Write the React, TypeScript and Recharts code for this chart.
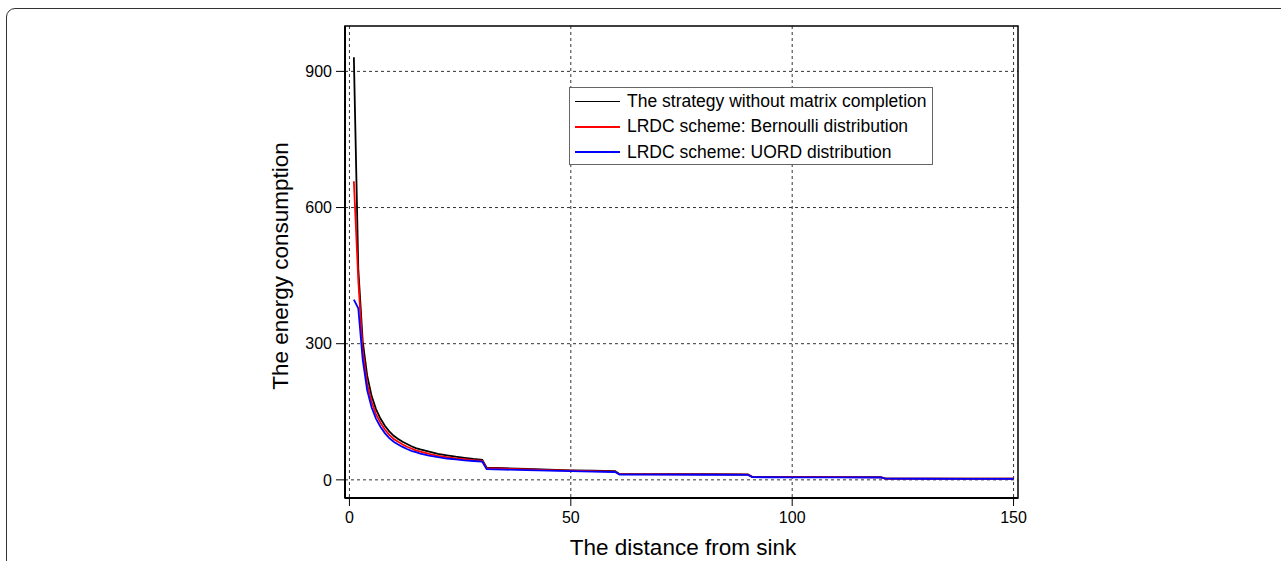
import React from "react";
import {
  LineChart,
  Line,
  XAxis,
  YAxis,
  CartesianGrid,
  ReferenceArea,
} from "recharts";

// distance from sink (hops)
const distance = [
  1, 2, 3, 4, 5, 6, 7, 8, 9, 10, 11, 12, 13, 14, 15, 16, 18, 20, 22, 24, 26,
  28, 30, 31, 35, 40, 45, 50, 55, 60, 61, 70, 80, 90, 91, 100, 110, 120, 121,
  130, 140, 150,
];

const withoutMC = [
  931, 465, 305, 230, 185, 156, 135, 119, 107, 97, 90, 84, 79, 74, 70, 67, 62,
  57, 54, 51, 48.5, 46, 44, 27, 25.5, 24, 22.5, 21, 20, 19, 13, 12.8, 12.4, 12,
  6.5, 6.3, 6.1, 5.9, 3, 2.9, 2.8, 2.7,
];

const bernoulli = [
  658, 440, 285, 212, 172, 145, 126, 111, 99, 90, 84, 78, 73, 69, 65, 62, 57,
  53, 50, 47.5, 45.5, 43.5, 42, 25.5, 24.5, 23, 21.5, 20.2, 19.2, 18.3, 12.5,
  12.2, 11.9, 11.6, 6.2, 6, 5.8, 5.6, 2.8, 2.7, 2.6, 2.5,
];

const uord = [
  397, 378, 265, 198, 160, 135, 117, 103, 92, 84, 78, 72.5, 68, 64, 61, 58,
  53.5, 50, 47, 45, 43, 41.5, 40, 23.5, 22.5, 21.5, 20.2, 19, 18, 17.3, 11.8,
  11.5, 11.2, 11, 5.8, 5.6, 5.4, 5.2, 2.5, 2.4, 2.3, 2.2,
];

const xTicks = [0, 50, 100, 150];
const yTicks = [0, 300, 600, 900];

const seriesNames = [
  "The strategy without matrix completion",
  "LRDC scheme: Bernoulli distribution",
  "LRDC scheme: UORD distribution",
];
const seriesColors = ["#000000", "#ff0000", "#0000ff"];
const seriesKeys = ["a", "b", "c"];

const data = distance.map((d, i) => ({
  d,
  a: withoutMC[i],
  b: bernoulli[i],
  c: uord[i],
}));

const FONT = "'Liberation Sans', Arial, Helvetica, sans-serif";

const LegendBox = () => (
  <div
    style={{
      position: "absolute",
      left: 569,
      top: 87,
      border: "1px solid #666",
      background: "#fff",
      width: 362,
      height: 75,
      fontFamily: FONT,
      fontSize: 17.5,
      color: "#000",
      paddingTop: 1,
    }}
  >
    {seriesNames.map((n, i) => (
      <div
        key={n}
        style={{ display: "flex", alignItems: "center", height: 25.3 }}
      >
        <div
          style={{
            width: 45,
            height: 1.5,
            background: seriesColors[i],
            marginLeft: 5,
            marginRight: 7,
          }}
        />
        <span>{n}</span>
      </div>
    ))}
  </div>
);

export default function App() {
  return (
    <div
      style={{
        position: "fixed",
        left: 0,
        top: 0,
        width: 1281,
        height: 561,
        overflow: "hidden",
        background: "#fff",
      }}
    >
      <div
        style={{
          position: "absolute",
          left: 6,
          top: 8,
          width: 1320,
          height: 640,
          border: "1.5px solid #333",
          borderRadius: 9,
        }}
      />
      <div style={{ position: "absolute", left: 0, top: 0 }}>
        <LineChart
          width={1281}
          height={561}
          data={data}
          margin={{ top: 26, right: 263, bottom: 33, left: 285 }}
        >
          <CartesianGrid
            stroke="#333"
            strokeDasharray="3 3"
            horizontalValues={yTicks}
            verticalValues={xTicks}
          />
          <XAxis
            dataKey="d"
            type="number"
            domain={[-1, 151]}
            ticks={xTicks}
            allowDataOverflow
            height={30}
            tickSize={8}
            tickMargin={6}
            stroke="#000"
            axisLine={{ stroke: "#000", strokeWidth: 2 }}
            tick={{ fill: "#000", fontSize: 16, fontFamily: FONT }}
          />
          <YAxis
            type="number"
            domain={[-40, 1000]}
            ticks={yTicks}
            allowDataOverflow
            width={60}
            tickSize={9}
            tickMargin={4}
            stroke="#000"
            axisLine={{ stroke: "#000", strokeWidth: 2 }}
            tick={{ fill: "#000", fontSize: 16, fontFamily: FONT }}
          />
          <ReferenceArea
            x1={-1}
            x2={151}
            y1={-40}
            y2={1000}
            ifOverflow="visible"
            fill="#fff"
            fillOpacity={0}
            stroke="#000"
            strokeWidth={1.5}
          />
          {seriesKeys.map((k, i) => (
            <Line
              key={k}
              dataKey={k}
              name={seriesNames[i]}
              stroke={seriesColors[i]}
              strokeWidth={1.8}
              dot={false}
              type="linear"
              isAnimationActive={false}
            />
          ))}
        </LineChart>
      </div>
      <LegendBox />
      <div
        style={{
          position: "absolute",
          left: 281,
          top: 266,
          transform: "translate(-50%, -50%) rotate(-90deg)",
          whiteSpace: "nowrap",
          fontFamily: FONT,
          fontSize: 22.5,
          color: "#000",
        }}
      >
        The energy consumption
      </div>
      <div
        style={{
          position: "absolute",
          left: 683,
          top: 548,
          transform: "translate(-50%, -50%)",
          whiteSpace: "nowrap",
          fontFamily: FONT,
          fontSize: 22.5,
          color: "#000",
        }}
      >
        The distance from sink
      </div>
    </div>
  );
}
